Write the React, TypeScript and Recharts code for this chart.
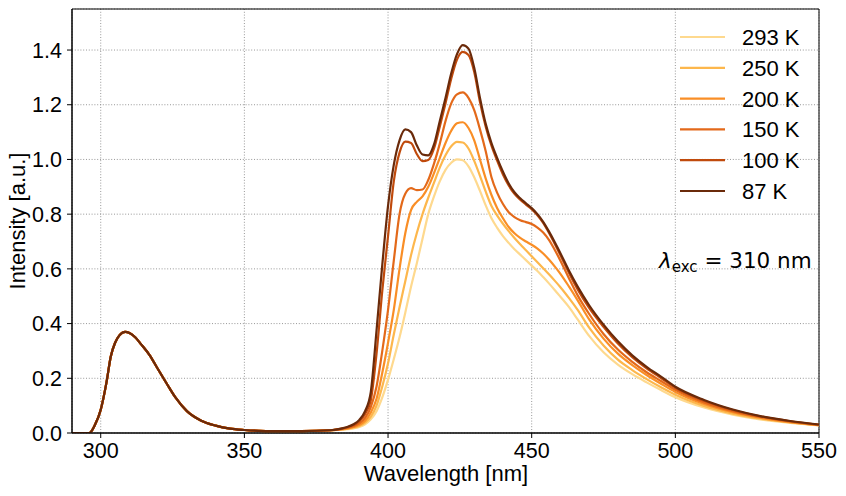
import React from 'react';
import { LineChart, Line, XAxis, YAxis, CartesianGrid, ReferenceArea } from 'recharts';

// excitation band, identical for every temperature
const excWavelength = [290, 294, 296, 298, 300, 302, 303.5, 305, 306.5, 308.5, 310, 312, 314, 317, 320, 323, 326, 330, 335, 340, 345, 350, 355, 360, 370, 380];
const excitation = [0, 0, 0, 0.03, 0.085, 0.185, 0.28, 0.33, 0.357, 0.37, 0.366, 0.35, 0.325, 0.285, 0.232, 0.18, 0.13, 0.08, 0.045, 0.027, 0.016, 0.011, 0.008, 0.007, 0.007, 0.01];

// emission band, one array per temperature
const emWavelength = [384, 386, 388, 390, 392, 394, 396, 398, 400, 402, 404, 406, 408, 410, 412, 414, 416, 418, 420, 422, 424, 426, 428, 430, 432, 434, 436, 438, 440, 442, 444, 446, 448, 450, 452, 454, 456, 458, 460, 463, 466, 470, 475, 480, 485, 490, 495, 500, 510, 520, 530, 540, 550];

const i293 = [0.012, 0.014, 0.017, 0.022, 0.032, 0.05, 0.08, 0.13, 0.195, 0.27, 0.35, 0.44, 0.535, 0.62, 0.71, 0.8, 0.865, 0.92, 0.962, 0.988, 1.0, 0.997, 0.975, 0.935, 0.885, 0.832, 0.785, 0.75, 0.72, 0.695, 0.672, 0.652, 0.632, 0.612, 0.592, 0.57, 0.547, 0.523, 0.498, 0.46, 0.415, 0.355, 0.295, 0.25, 0.215, 0.185, 0.157, 0.131, 0.093, 0.067, 0.049, 0.037, 0.028];
const i250 = [0.013, 0.016, 0.02, 0.026, 0.038, 0.06, 0.1, 0.17, 0.255, 0.36, 0.46, 0.555, 0.65, 0.73, 0.8, 0.86, 0.915, 0.97, 1.015, 1.048, 1.064, 1.062, 1.04, 0.995, 0.94, 0.882, 0.83, 0.795, 0.765, 0.738, 0.713, 0.69, 0.668, 0.646, 0.624, 0.602, 0.58, 0.557, 0.533, 0.493, 0.45, 0.385, 0.32, 0.268, 0.23, 0.197, 0.167, 0.14, 0.099, 0.071, 0.052, 0.039, 0.029];
const i200 = [0.014, 0.017, 0.022, 0.03, 0.045, 0.075, 0.125, 0.22, 0.33, 0.45, 0.6, 0.73, 0.815, 0.845, 0.865, 0.9, 0.95, 1.005, 1.06, 1.105, 1.132, 1.136, 1.115, 1.07, 1.0, 0.93, 0.87, 0.822, 0.785, 0.753, 0.73, 0.713, 0.7, 0.688, 0.674, 0.656, 0.634, 0.609, 0.582, 0.535, 0.485, 0.415, 0.345, 0.29, 0.248, 0.212, 0.18, 0.15, 0.106, 0.076, 0.055, 0.04, 0.029];
const i150 = [0.015, 0.019, 0.025, 0.035, 0.055, 0.095, 0.17, 0.3, 0.45, 0.63, 0.8, 0.875, 0.895, 0.888, 0.89, 0.925, 0.985, 1.057, 1.14, 1.205, 1.238, 1.245, 1.225, 1.18, 1.11, 1.03, 0.935, 0.878, 0.837, 0.807, 0.789, 0.778, 0.771, 0.764, 0.751, 0.733, 0.706, 0.67, 0.63, 0.565, 0.503, 0.435, 0.362, 0.305, 0.26, 0.222, 0.19, 0.158, 0.112, 0.08, 0.058, 0.042, 0.03];
const i100 = [0.016, 0.021, 0.029, 0.043, 0.07, 0.12, 0.29, 0.52, 0.72, 0.92, 1.025, 1.065, 1.06, 1.02, 0.994, 0.998, 1.04, 1.12, 1.205, 1.295, 1.365, 1.393, 1.382, 1.32, 1.21, 1.12, 1.05, 0.995, 0.945, 0.905, 0.874, 0.853, 0.835, 0.818, 0.796, 0.768, 0.732, 0.692, 0.65, 0.585, 0.525, 0.457, 0.388, 0.327, 0.277, 0.236, 0.201, 0.165, 0.118, 0.084, 0.06, 0.043, 0.03];
const i87 = [0.017, 0.023, 0.032, 0.048, 0.08, 0.15, 0.375, 0.615, 0.83, 0.98, 1.07, 1.11, 1.1, 1.052, 1.018, 1.015, 1.055, 1.14, 1.225, 1.315, 1.385, 1.418, 1.405, 1.335, 1.225, 1.13, 1.06, 1.005, 0.955, 0.912, 0.88, 0.858, 0.84, 0.822, 0.8, 0.772, 0.737, 0.698, 0.657, 0.593, 0.535, 0.467, 0.396, 0.335, 0.284, 0.242, 0.206, 0.169, 0.121, 0.086, 0.061, 0.044, 0.031];

const temperatures = ['293 K', '250 K', '200 K', '150 K', '100 K', '87 K'];
const emission = [i293, i250, i200, i150, i100, i87];
const colors = ['#fed98e', '#fdb74c', '#f98e26', '#e3691a', '#c04a0c', '#6a2a0a'];

const xTicks = [300, 350, 400, 450, 500, 550];
const yTicks = [0, 0.2, 0.4, 0.6, 0.8, 1.0, 1.2, 1.4];

const rows = [
  ...excWavelength.map((w, i) => {
    const r: any = { w };
    emission.forEach((_, s) => (r['s' + s] = excitation[i]));
    return r;
  }),
  ...emWavelength.map((w, i) => {
    const r: any = { w };
    emission.forEach((v, s) => (r['s' + s] = v[i]));
    return r;
  }),
];

const FONT = '"Liberation Sans", Arial, sans-serif';
const tickStyle = { fontSize: 21.5, fill: '#000', fontFamily: FONT };

const App: React.FC = () => {
  return (
    <div style={{ position: 'relative', width: 846, height: 496, fontFamily: FONT }}>
      <style>{'body{margin:0}'}</style>
      <LineChart width={846} height={496} data={rows} margin={{ top: 9, right: 27, left: 12, bottom: 23 }}>
        <CartesianGrid stroke="#8c8c8c" strokeWidth={0.9} strokeDasharray="1 1.8" />
        <XAxis
          dataKey="w"
          type="number"
          domain={[290, 550]}
          ticks={xTicks}
          allowDataOverflow
          height={40}
          tick={tickStyle}
          tickSize={5}
          tickMargin={5}
          stroke="#000"
        />
        <YAxis
          type="number"
          domain={[0, 1.55]}
          ticks={yTicks}
          allowDataOverflow
          width={60}
          tick={tickStyle}
          tickSize={5}
          tickMargin={5}
          tickFormatter={(v: number) => v.toFixed(1)}
          stroke="#000"
        />
        <ReferenceArea x1={290} x2={550} y1={0} y2={1.55} fill="none" stroke="#000" strokeWidth={1} />
        {temperatures.map((t, s) => (
          <Line
            key={t}
            dataKey={'s' + s}
            name={t}
            type="monotone"
            stroke={colors[s]}
            strokeWidth={2.2}
            dot={false}
            isAnimationActive={false}
          />
        ))}
      </LineChart>
      <svg width={846} height={496} style={{ position: 'absolute', left: 0, top: 0, pointerEvents: 'none' }}>
        {temperatures.map((t, s) => {
          const y = 37 + s * 30.8;
          return (
            <g key={t}>
              <line x1={680} x2={725} y1={y} y2={y} stroke={colors[s]} strokeWidth={2.2} />
              <text x={742} y={y + 8} fontSize={22} fontFamily={FONT} fill="#000">{t}</text>
            </g>
          );
        })}
        <text x={659} y={268} fontSize={21.5} fontFamily='"DejaVu Sans", sans-serif' fill="#000">
          <tspan fontStyle="italic">λ</tspan>
          <tspan fontSize={15} dy={4}>exc</tspan>
          <tspan dy={-4}> = 310 nm</tspan>
        </text>
        <text x={446} y={481} fontSize={22} fontFamily={FONT} textAnchor="middle" fill="#000">Wavelength [nm]</text>
        <text x={25} y={221} fontSize={22} fontFamily={FONT} textAnchor="middle" fill="#000" transform="rotate(-90 25 221)">Intensity [a.u.]</text>
      </svg>
    </div>
  );
};

export default App;
